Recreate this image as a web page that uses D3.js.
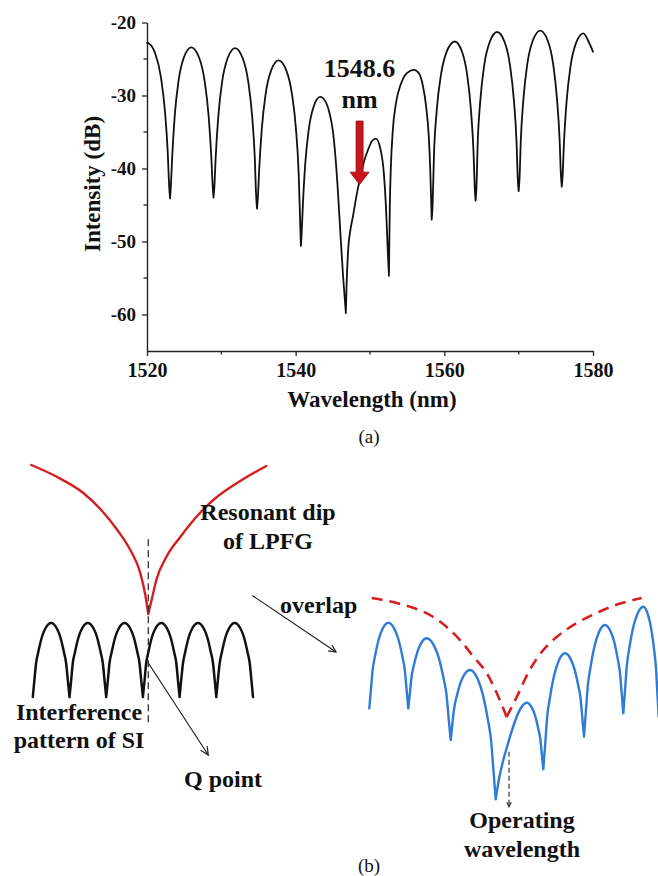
<!DOCTYPE html>
<html><head><meta charset="utf-8">
<script src="https://cdn.jsdelivr.net/npm/d3@7"></script>
<style>
html,body{margin:0;padding:0;background:#fff;}
svg{display:block;}
svg text{font-family:'Liberation Serif','Times New Roman',Tinos,'DejaVu Serif',serif !important;fill:#111;}
</style></head><body>
<svg id="fig" width="658" height="876"></svg>
<script>
// ---------- (a) measured transmission spectrum ----------
const wavelength = [
  1520.0,1520.3,1521.09,1521.86,1522.42,1522.79,1522.98,1523.1,
  1523.21,1523.39,1523.73,1524.24,1524.96,1525.95,1527.0,1527.75,1528.29,1528.65,1528.83,1528.95,
  1529.07,1529.24,1529.59,1530.11,1530.84,1531.85,1532.88,1533.62,1534.15,1534.5,1534.68,1534.8,
  1534.92,1535.09,1535.44,1535.96,1536.69,1537.7,1538.75,1539.5,1540.04,1540.4,1540.58,1540.7,
  1540.8,1540.96,1541.27,1541.74,1542.39,1543.3,1544.0,1544.6,1545.0,1545.27,1545.65,1546.02,1546.38,1546.75,
  1546.85,1547.05,1547.35,1547.7,1548.1,1548.6,1549.15,1549.75,1550.3,1550.8,1551.4,1551.85,1552.15,1552.38,1552.55,
  1552.6,1552.67,1552.8,1553.05,1553.5,1554.2,1555.0,1555.9,1556.6,1557.1,1557.55,1557.9,1558.1,1558.22,1558.3,
  1558.42,1558.61,1558.98,1559.54,1560.32,1561.4,1562.38,1563.08,1563.58,1563.92,1564.09,1564.2,
  1564.32,1564.49,1564.84,1565.36,1566.09,1567.1,1568.12,1568.84,1569.36,1569.71,1569.88,1570.0,
  1570.12,1570.29,1570.64,1571.16,1571.89,1572.9,1573.92,1574.64,1575.16,1575.51,1575.68,1575.8,
  1575.92,1576.09,1576.44,1576.96,1577.69,1578.7,1579.4,1580.0
];
const intensity = [
  -22.8,-22.9,-24.2,-27.4,-32.2,-37.8,-42.4,-44.1,
  -42.4,-38.4,-32.8,-28.0,-24.8,-23.4,-24.8,-28.0,-32.8,-38.4,-42.3,-44.0,
  -42.4,-38.5,-32.9,-28.1,-24.9,-23.5,-24.9,-28.1,-32.9,-38.5,-43.7,-45.5,
  -43.9,-40.2,-34.6,-29.8,-26.6,-25.2,-26.6,-29.8,-34.6,-40.6,-46.5,-50.6,
  -49.0,-45.2,-39.6,-34.8,-31.6,-30.2,-30.8,-32.6,-34.8,-37.4,-42.6,-48.9,-54.8,-59.8,
  -56.0,-51.3,-48.5,-46.6,-44.2,-41.6,-39.2,-37.4,-36.2,-35.9,-37.3,-40.5,-45.3,-51.0,-54.7,
  -50.0,-45.0,-40.0,-35.0,-31.0,-28.3,-26.9,-26.5,-27.0,-28.6,-31.5,-35.5,-40.0,-44.0,-47.0,
  -45.0,-38.0,-32.0,-27.2,-24.0,-22.6,-24.0,-27.2,-32.0,-37.6,-42.6,-44.4,
  -42.6,-36.5,-30.7,-25.9,-22.7,-21.3,-22.7,-25.9,-30.7,-36.3,-41.4,-43.1,
  -41.3,-36.1,-30.5,-25.7,-22.5,-21.1,-22.5,-25.7,-30.5,-36.1,-40.8,-42.5,
  -40.8,-36.5,-30.9,-26.1,-22.9,-21.5,-22.6,-24.0
];
const xTicks = [1520, 1540, 1560, 1580];
const xMinorTicks = [1530, 1550, 1570];
const yTicks = [-60, -50, -40, -30, -20];
const yMinorTicks = [-55, -45, -35, -25];
const xDomain = [1520, 1580];
const yDomain = [-65, -20];
const markerWavelength = 1548.6;
const markerArrowFrom = -33.5;   // dB, top of the arrow shaft
const markerArrowBase = -40.5;   // dB, base of the arrow head
const markerArrowTip = -42.2;    // dB, tip of the arrow head
const markerLines = ["1548.6", "nm"];

// ---------- (b) schematic ----------
// left: LPFG resonant dip (relative detuning, relative level)
const lpfgX = [-117,-93,-65,-48,-31,-18,-8,-3,0,4,8,18,32,48,65,92,118];
const lpfgY = [235,224,207,191,170,150,127,105,86,103,120,143,163,183,200,219,234];
// left: SI interference fringes
const siX = [
  -115.5,-113.9,-112.2,-110.0,-106.4,-102.7,-97.2,-91.7,-88.0,-84.4,-82.2,-80.5,-78.8,
  -77.1,-75.5,-73.3,-69.7,-66.0,-60.5,-55.0,-51.3,-47.7,-45.5,-43.8,-42.1,
  -40.4,-38.8,-36.6,-33.0,-29.3,-23.8,-18.3,-14.6,-11.0,-8.8,-7.1,-5.4,
  -3.7,-2.1,0.1,3.7,7.4,13.0,18.5,22.2,25.8,28.0,29.6,31.3,
  32.9,34.7,36.9,40.5,44.2,49.7,55.2,58.9,62.5,64.7,66.4,68.0,
  69.6,71.4,73.6,77.2,80.9,86.4,91.9,95.6,99.2,101.4,103.1,104.7
];
const siY = [
  3,20,37,48,63,72,77,72,63,48,37,20,3,
  20,37,48,63,72,77,72,63,48,37,20,3,
  20,37,48,63,72,77,72,63,48,37,20,3,
  20,37,48,63,72,77,72,63,48,37,20,3,
  20,37,48,63,72,77,72,63,48,37,20,3,
  20,37,48,63,72,77,72,63,48,37,20,3
];
const qMarkerX = 0;            // quadrature point detuning
const qGuide = [160.7, -23.3]; // vertical guide extent
const qArrow = [[0, 37], [60, -55]];
const overlapArrow = [[104, 104.5], [187.7, 48]];

// right: envelope (dashed) and overlapped spectrum
const envX = [-135,-110,-93,-75,-60,-45,-33,-20,-10,0,10,23,35,50,70,90,112,135];
const envY = [202,197,192,184,173,158,143,127,107,83,103,130,148,163,177,187,196,202];
const mixX = [
  -137.4,-135.7,-134.0,-131.7,-127.9,-124.1,-118.4,
  -112.4,-108.4,-104.4,-102.0,-100.2,-98.4,
  -96.7,-95.1,-92.9,-89.2,-85.5,-80.0,
  -72.8,-68.0,-63.2,-60.3,-58.2,-56.0,
  -54.3,-52.5,-50.2,-46.4,-42.5,-36.7,
  -29.0,-23.9,-18.7,-15.6,-13.3,-11.0,
  -7.5,-3.4,0,3.3,7,10,15,20,
  25.0,28.3,31.6,33.6,35.1,36.6,
  38.6,40.5,43.1,47.5,51.8,58.3,
  64.0,67.8,71.6,73.9,75.6,77.3,
  79.2,81.1,83.6,87.8,92.0,98.3,
  103.8,107.5,111.1,113.3,115.0,116.6,
  118.4,120.2,122.6,126.6,130.6,136.6,
  141.2,144.3,147.4,149.2,150.6,152.0
];
const mixY = [
  91.7,111.4,130.6,143.9,161.0,171.3,177.3,
  171.3,161.0,143.9,130.6,111.4,91.7,
  107.8,123.5,134.4,148.4,156.8,161.7,
  154.6,142.4,122.0,106.3,83.4,60.0,
  76.1,91.9,102.7,116.7,125.1,130.0,
  120.9,105.4,79.6,59.5,30.4,0.7,
  22,40,52,63.3,75,83.3,93.3,97.3,
  92.6,84.6,71.3,61.0,46.0,30.7,
  57.4,83.5,101.5,124.7,138.6,146.7,
  140.9,130.9,114.2,101.2,82.5,63.3,
  89.0,114.1,131.4,153.8,167.2,175.0,
  168.8,158.2,140.6,126.9,107.0,86.7,
  111.0,135.2,151.7,173.0,185.8,193.3,
  185.6,172.4,150.4,133.3,108.0,83.3
];
const operatingX = 2.3;
const operatingArrow = [48.3, -6.7];

const SERIF = "'Liberation Serif','Times New Roman',Tinos,'DejaVu Serif',serif";
const svg = d3.select("#fig");

// split a curve into arches at its local minima so each dip is a sharp cusp
function archSegments(pts) {
  const segs = [];
  let cur = [pts[0]];
  for (let i = 1; i < pts.length; i++) {
    cur.push(pts[i]);
    if (i < pts.length - 1 && pts[i][1] < pts[i - 1][1] && pts[i][1] < pts[i + 1][1]) {
      segs.push(cur);
      cur = [pts[i]];
    }
  }
  segs.push(cur);
  return segs;
}
function curvePath(xs, ys, sx, sy) {
  const pts = xs.map((v, i) => [v, ys[i]]);
  const line = d3.line().x(d => sx(d[0])).y(d => sy(d[1])).curve(d3.curveMonotoneX);
  return archSegments(pts).map(s => line(s)).join("");
}
function openArrow(g, x1, y1, x2, y2, size, stroke, width, dash) {
  g.append("line").attr("x1", x1).attr("y1", y1).attr("x2", x2).attr("y2", y2)
    .attr("stroke", stroke).attr("stroke-width", width)
    .attr("stroke-dasharray", dash || null);
  const a = Math.atan2(y2 - y1, x2 - x1);
  const spread = 0.45;
  const head = d3.path();
  head.moveTo(x2 - size * Math.cos(a - spread), y2 - size * Math.sin(a - spread));
  head.lineTo(x2, y2);
  head.lineTo(x2 - size * Math.cos(a + spread), y2 - size * Math.sin(a + spread));
  g.append("path").attr("d", head.toString()).attr("fill", "none")
    .attr("stroke", stroke).attr("stroke-width", width).attr("stroke-linejoin", "miter");
}

// ---------- panel (a) ----------
const x = d3.scaleLinear().domain(xDomain).range([147, 593]);
const y = d3.scaleLinear().domain(yDomain).range([351, 22.5]);
const gA = svg.append("g");
const plain = d => String(d);

const xAxis = gA.append("g").attr("transform", `translate(0,${y(yDomain[0])})`)
  .call(d3.axisBottom(x).tickValues(xTicks).tickFormat(plain).tickSize(5).tickSizeOuter(0).tickPadding(7));
xAxis.append("g").selectAll("line").data(xMinorTicks).join("line")
  .attr("x1", d => x(d)).attr("x2", d => x(d)).attr("y1", 0).attr("y2", 3.5);
const yAxis = gA.append("g").attr("transform", `translate(${x(xDomain[0])},0)`)
  .call(d3.axisLeft(y).tickValues(yTicks).tickFormat(plain).tickSize(5).tickSizeOuter(0).tickPadding(6));
yAxis.append("g").selectAll("line").data(yMinorTicks).join("line")
  .attr("x1", 0).attr("x2", -3.5).attr("y1", d => y(d)).attr("y2", d => y(d));
[xAxis, yAxis].forEach(ax => {
  ax.attr("font-family", SERIF);
  ax.selectAll("path.domain").attr("stroke", "#222").attr("stroke-width", 1.4);
  ax.selectAll("line").attr("stroke", "#222").attr("stroke-width", 1.3);
  ax.selectAll("text").style("font-family", SERIF).attr("font-weight", "bold").attr("fill", "#111");
});
xAxis.selectAll(".tick text").attr("font-size", 20);
yAxis.selectAll(".tick text").attr("font-size", 19);

gA.append("path")
  .attr("d", curvePath(wavelength, intensity, x, y))
  .attr("fill", "none").attr("stroke", "#111").attr("stroke-width", 1.8)
  .attr("stroke-linejoin", "round").attr("stroke-linecap", "round");

// marker arrow at the operating wavelength
const mx = x(markerWavelength);
const yTop = y(markerArrowFrom), yBase = y(markerArrowBase), yTip = y(markerArrowTip);
gA.append("polygon")
  .attr("points", [[mx - 3.5, yTop], [mx + 3.5, yTop], [mx + 3.5, yBase], [mx + 9.5, yBase],
    [mx, yTip], [mx - 9.5, yBase], [mx - 3.5, yBase]].map(p => p.join(",")).join(" "))
  .attr("fill", "#c8141a").attr("stroke", "#8a0c0c").attr("stroke-width", 0.8);
const textA = (t, px, py, size, bold, transform) => gA.append("text")
  .attr("x", px).attr("y", py).attr("transform", transform || null)
  .attr("text-anchor", "middle").attr("font-size", size)
  .attr("font-weight", bold ? "bold" : "normal").style("font-family", SERIF).text(t);
textA(markerLines[0], mx, 77, 26, true);
textA(markerLines[1], mx, 108, 26, true);
textA("Wavelength (nm)", 372, 407, 23, true);
textA("Intensity (dB)", 0, 0, 23, true, "translate(100,184) rotate(-90)");
textA("(a)", 369, 443, 19, false);

// ---------- panel (b) ----------
const xL = d3.scaleLinear().domain([-120, 120]).range([28.3, 268.3]);
const yL = d3.scaleLinear().domain([0, 240]).range([700, 460]);
const xR = d3.scaleLinear().domain([-150, 150]).range([356.7, 656.7]);
const yR = d3.scaleLinear().domain([0, 250]).range([800, 550]);
const gB = svg.append("g");

gB.append("path").attr("d", curvePath(lpfgX, lpfgY, xL, yL))
  .attr("fill", "none").attr("stroke", "#d21e1e").attr("stroke-width", 2.4)
  .attr("stroke-linejoin", "round").attr("stroke-linecap", "round");
gB.append("line").attr("x1", xL(qMarkerX)).attr("x2", xL(qMarkerX))
  .attr("y1", yL(qGuide[0])).attr("y2", yL(qGuide[1]))
  .attr("stroke", "#333").attr("stroke-width", 1.3).attr("stroke-dasharray", "7,4");
gB.append("path").attr("d", curvePath(siX, siY, xL, yL))
  .attr("fill", "none").attr("stroke", "#111").attr("stroke-width", 2.5)
  .attr("stroke-linejoin", "round").attr("stroke-linecap", "round");
openArrow(gB, xL(qArrow[0][0]), yL(qArrow[0][1]), xL(qArrow[1][0]), yL(qArrow[1][1]), 9, "#222", 1.2);
openArrow(gB, xL(overlapArrow[0][0]), yL(overlapArrow[0][1]), xL(overlapArrow[1][0]), yL(overlapArrow[1][1]), 8, "#222", 1.2);

gB.append("path").attr("d", curvePath(envX, envY, xR, yR))
  .attr("fill", "none").attr("stroke", "#d42020").attr("stroke-width", 2.6)
  .attr("stroke-dasharray", "11,7");
gB.append("path").attr("d", curvePath(mixX, mixY, xR, yR))
  .attr("fill", "none").attr("stroke", "#2f7bd6").attr("stroke-width", 2.4)
  .attr("stroke-linejoin", "round").attr("stroke-linecap", "round");
openArrow(gB, xR(operatingX), yR(operatingArrow[0]), xR(operatingX), yR(operatingArrow[1]), 5, "#222", 1.1, "5,3");

const label = (t, px, py, anchor, size, bold) => gB.append("text").attr("x", px).attr("y", py)
  .attr("text-anchor", anchor).attr("font-size", size).style("font-family", SERIF)
  .attr("font-weight", bold ? "bold" : "normal").text(t);
label("Resonant dip", 268, 520, "middle", 24, true);
label("of LPFG", 268, 549, "middle", 24, true);
label("overlap", 280, 613, "start", 24, true);
label("Interference", 79, 720, "middle", 24, true);
label("pattern of SI", 79, 748, "middle", 24, true);
label("Q point", 223, 787, "middle", 24, true);
label("Operating", 522, 828, "middle", 24, true);
label("wavelength", 522, 857, "middle", 24, true);
label("(b)", 369, 872, "middle", 19, false);
</script>
</body></html>
